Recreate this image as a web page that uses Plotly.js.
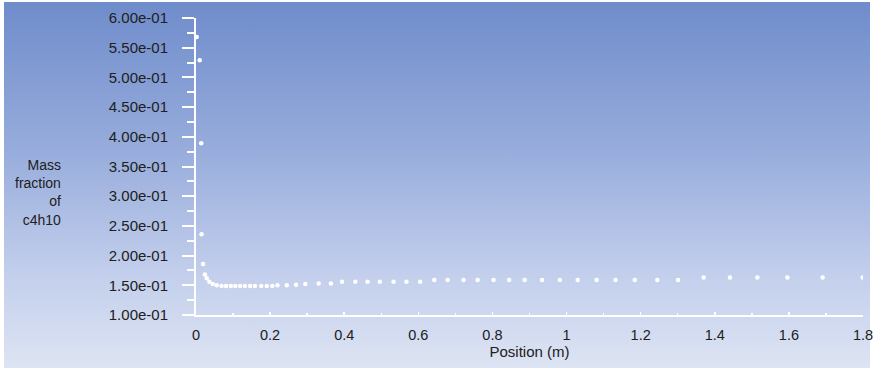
<!DOCTYPE html>
<html>
<head>
<meta charset="utf-8">
<script src="https://cdn.plot.ly/plotly-3.0.1.min.js"></script>
<style>
  html, body { margin: 0; padding: 0; background: #ffffff; }
  #wrap { position: relative; width: 873px; height: 370px; overflow: hidden; }
  #bg { position: absolute; left: 4px; top: 2px; right: 3px; bottom: 2px;
        background: linear-gradient(to bottom, #6f8ccb 0%, #97acdc 40%, #c3cfec 75%, #dde4f3 100%); }
  #chart { position: absolute; left: 0; top: 0; width: 873px; height: 370px; }
</style>
</head>
<body>
<div id="wrap">
  <div id="bg"></div>
  <div id="chart"></div>
</div>
<script>
// Position (m)
const positionM = [0.002, 0.010, 0.014, 0.015, 0.019, 0.024, 0.029, 0.036, 0.045, 0.056,
  0.069, 0.081, 0.094, 0.106, 0.119, 0.132, 0.146, 0.159, 0.176, 0.191, 0.206, 0.220,
  0.245, 0.270, 0.295,
  0.331, 0.364, 0.394, 0.430, 0.463, 0.496, 0.533, 0.568, 0.605, 0.643, 0.679, 0.722, 0.760, 0.803,
  0.845, 0.887, 0.934, 0.982, 1.030, 1.081, 1.132, 1.184, 1.245, 1.301,
  1.370, 1.441, 1.515, 1.596, 1.691, 1.799];

// Mass fraction of c4h10
const massFractionC4H10 = [0.568, 0.529, 0.389, 0.236, 0.186, 0.168, 0.162, 0.156, 0.152, 0.150,
  0.149, 0.149, 0.149, 0.149, 0.149, 0.149, 0.149, 0.149, 0.149, 0.149, 0.149, 0.150,
  0.150, 0.151, 0.152,
  0.153, 0.153, 0.156, 0.156, 0.156, 0.156, 0.156, 0.156, 0.156, 0.159, 0.159, 0.159, 0.159, 0.159,
  0.159, 0.159, 0.159, 0.159, 0.159, 0.159, 0.159, 0.159, 0.159, 0.159,
  0.163, 0.163, 0.163, 0.163, 0.163, 0.163];

const yTickVals = [0.10, 0.15, 0.20, 0.25, 0.30, 0.35, 0.40, 0.45, 0.50, 0.55, 0.60];
const yTickText = ['1.00e-01', '1.50e-01', '2.00e-01', '2.50e-01', '3.00e-01', '3.50e-01',
  '4.00e-01', '4.50e-01', '5.00e-01', '5.50e-01', '6.00e-01'];
const xTickVals = [0, 0.2, 0.4, 0.6, 0.8, 1.0, 1.2, 1.4, 1.6, 1.8];
const xTickText = ['0', '0.2', '0.4', '0.6', '0.8', '1', '1.2', '1.4', '1.6', '1.8'];

const fontFam = 'Liberation Sans, Arial, sans-serif';
const textColor = '#202020';

const trace = {
  x: positionM,
  y: massFractionC4H10,
  type: 'scatter',
  mode: 'markers',
  marker: { color: '#ffffff', size: 4.5, line: { width: 0 } },
  hoverinfo: 'skip'
};

const layout = {
  width: 873,
  height: 370,
  margin: { l: 196, r: 10, t: 18, b: 55, pad: 0 },
  paper_bgcolor: 'rgba(0,0,0,0)',
  plot_bgcolor: 'rgba(0,0,0,0)',
  showlegend: false,
  font: { family: fontFam, size: 15, color: textColor },
  xaxis: {
    range: [0, 1.8],
    showgrid: false,
    zeroline: false,
    showline: true,
    linecolor: '#ffffff',
    linewidth: 2,
    tickmode: 'array',
    tickvals: xTickVals,
    ticktext: xTickText,
    ticks: 'inside',
    ticklen: 3,
    tickwidth: 1.5,
    tickcolor: '#ffffff',
    minor: { ticks: 'inside', ticklen: 2, tickcolor: '#ffffff', tickwidth: 1.5, dtick: 0.1, showgrid: false },
    ticklabelstandoff: 6,
    ticklabeloverflow: 'allow',
    tickfont: { family: fontFam, size: 14.5, color: textColor },
    title: { text: 'Position (m)', font: { family: fontFam, size: 15, color: textColor }, standoff: 4 }
  },
  yaxis: {
    range: [0.1, 0.6],
    showgrid: false,
    zeroline: false,
    showline: true,
    linecolor: '#ffffff',
    linewidth: 2,
    tickmode: 'array',
    tickvals: yTickVals,
    ticktext: yTickText,
    ticks: 'outside',
    ticklen: 12,
    tickwidth: 2,
    tickcolor: '#ffffff',
    minor: { ticks: 'outside', ticklen: 7, tickcolor: '#ffffff', tickwidth: 2, dtick: 0.025, showgrid: false },
    ticklabelstandoff: 11,
    tickfont: { family: fontFam, size: 15, color: textColor }
  },
  annotations: [{
    xref: 'paper', yref: 'paper',
    x: -0.2, y: 0.414,
    xanchor: 'right', yanchor: 'middle',
    align: 'right',
    showarrow: false,
    text: 'Mass<br>fraction<br>of<br>c4h10',
    font: { family: fontFam, size: 14, color: textColor }
  }]
};

Plotly.newPlot('chart', [trace], layout, { displayModeBar: false, staticPlot: true });
</script>
</body>
</html>
